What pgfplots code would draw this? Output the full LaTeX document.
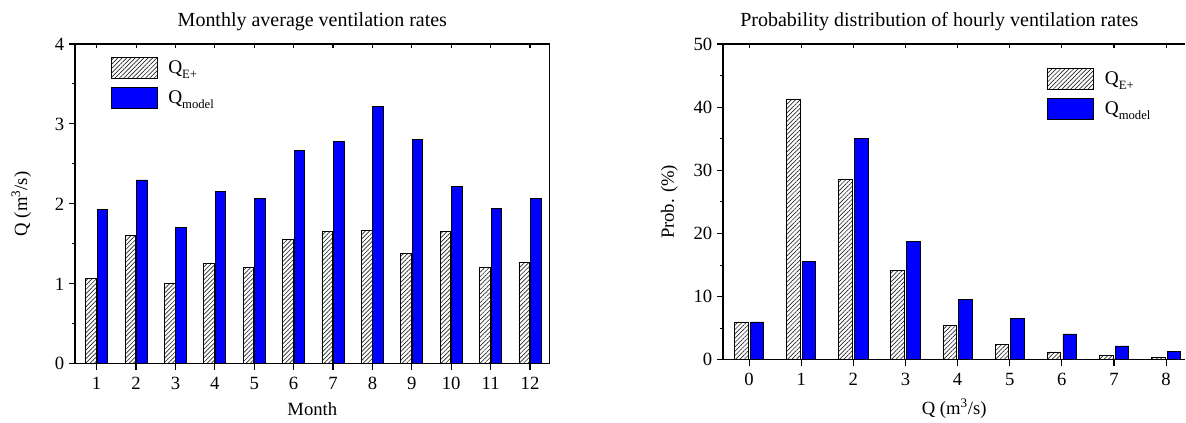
\documentclass[border=0pt]{standalone}
\usepackage{fontspec}
\setmainfont{Liberation Serif}
\usepackage{pgfplots}
\pgfplotsset{compat=1.18}
\usetikzlibrary{patterns.meta}

\newcommand{\lsub}[1]{\raisebox{-0.55ex}{\fontsize{9.5}{10}\selectfont #1}}

\pgfplotsset{
  vent/.style={
    scale only axis,
    anchor=south west,
    ybar,
    /pgf/number format/assume math mode=true,
    ticklabel style={font=\fontsize{14}{16}\selectfont},
    label style={font=\fontsize{14}{16}\selectfont},
    title style={font=\fontsize{15}{17}\selectfont},
    axis line style={line width=0.9pt,-},
    tick style={line width=0.8pt,black},
    major tick length=4.5pt,
    minor tick length=2.5pt,
    tick align=outside,
    xtick pos=bottom,
    ytick pos=left,
    xticklabel shift=2pt,
    xlabel shift=3pt,
    legend cell align=left,
    legend style={draw=none,fill=none,inner sep=0pt,
      font=\fontsize{14.5}{16}\selectfont, row sep=6pt,
      /tikz/every odd column/.append style={column sep=6pt}},
    legend image code/.code={\draw[#1,line width=0.6pt] (0pt,-8pt) rectangle (34.5pt,8pt);},
  },
  hatch/.style={draw=black,line width=0.6pt,
    pattern={Lines[angle=45,distance=2.3pt,line width=0.5pt]}, pattern color=black!85},
  solid/.style={draw=black,line width=0.6pt,fill=blue},
  topticks/.style={
    scale only axis, anchor=south west,
    axis line style={draw=none},
    tick style={line width=0.8pt,black},
    xtick pos=top, tick align=inside, major tick length=3pt,
    xticklabels={}, ytick=\empty,
  },
}

\begin{document}
\begin{tikzpicture}[x=1pt,y=1pt]
\path (0,0) rectangle (889.5,317.25);

% left panel: monthly means
\begin{axis}[vent,
  at={(56.25pt,44.25pt)}, width=356.25pt, height=240pt,
  xmin=0.45, xmax=12.5, ymin=0, ymax=4,
  xtick={1,...,12}, ytick={0,1,2,3,4}, minor y tick num=1,
  bar width=0.27,
  ylabel shift=11pt,
  title={Monthly average ventilation rates},
  xlabel={Month}, ylabel={Q (m\textsuperscript{3}/s)},
  legend style={at={(0.075,0.96)},anchor=north west},
]
\addplot[hatch, bar shift=-0.145] coordinates {
  (1,1.07) (2,1.60) (3,1.00) (4,1.26) (5,1.21) (6,1.55)
  (7,1.65) (8,1.67) (9,1.38) (10,1.65) (11,1.20) (12,1.27)};
\addplot[solid, bar shift=0.145] coordinates {
  (1,1.93) (2,2.30) (3,1.70) (4,2.16) (5,2.07) (6,2.67)
  (7,2.78) (8,3.22) (9,2.81) (10,2.22) (11,1.94) (12,2.07)};
\legend{Q\lsub{E+}, Q\lsub{model}}
\end{axis}
\begin{axis}[topticks,
  at={(56.25pt,44.25pt)}, width=356.25pt, height=240pt,
  xmin=0.45, xmax=12.5, ymin=0, ymax=4, xtick={1,...,12}]
\end{axis}

% right panel: distribution
\begin{axis}[vent,
  at={(542.5pt,47.25pt)}, width=347pt, height=237pt,
  axis x line*=box, axis y line*=left,
  xmin=-0.5, xmax=8.37, ymin=0, ymax=50,
  xtick={0,...,8}, ytick={0,10,...,50}, minor y tick num=1,
  bar width=0.26,
  ylabel shift=5pt,
  title={Probability distribution of hourly ventilation rates},
  title style={at={(0.468,1)}},
  xlabel={Q (m\textsuperscript{3}/s)}, ylabel={Prob. (\%)},
  legend style={at={(0.701,0.925)},anchor=north west},
]
\addplot[hatch, bar shift=-0.15] coordinates {
  (0,6.0) (1,41.2) (2,28.6) (3,14.2) (4,5.4) (5,2.5) (6,1.25) (7,0.75) (8,0.42)};
\addplot[solid, bar shift=0.15] coordinates {
  (0,6.0) (1,15.6) (2,35.0) (3,18.7) (4,9.6) (5,6.6) (6,4.1) (7,2.2) (8,1.35)};
\legend{Q\lsub{E+}, Q\lsub{model}}
\end{axis}
\begin{axis}[topticks,
  at={(542.5pt,47.25pt)}, width=347pt, height=237pt,
  xmin=-0.5, xmax=8.37, ymin=0, ymax=50, xtick={0,...,8}]
\end{axis}
\end{tikzpicture}
\end{document}
